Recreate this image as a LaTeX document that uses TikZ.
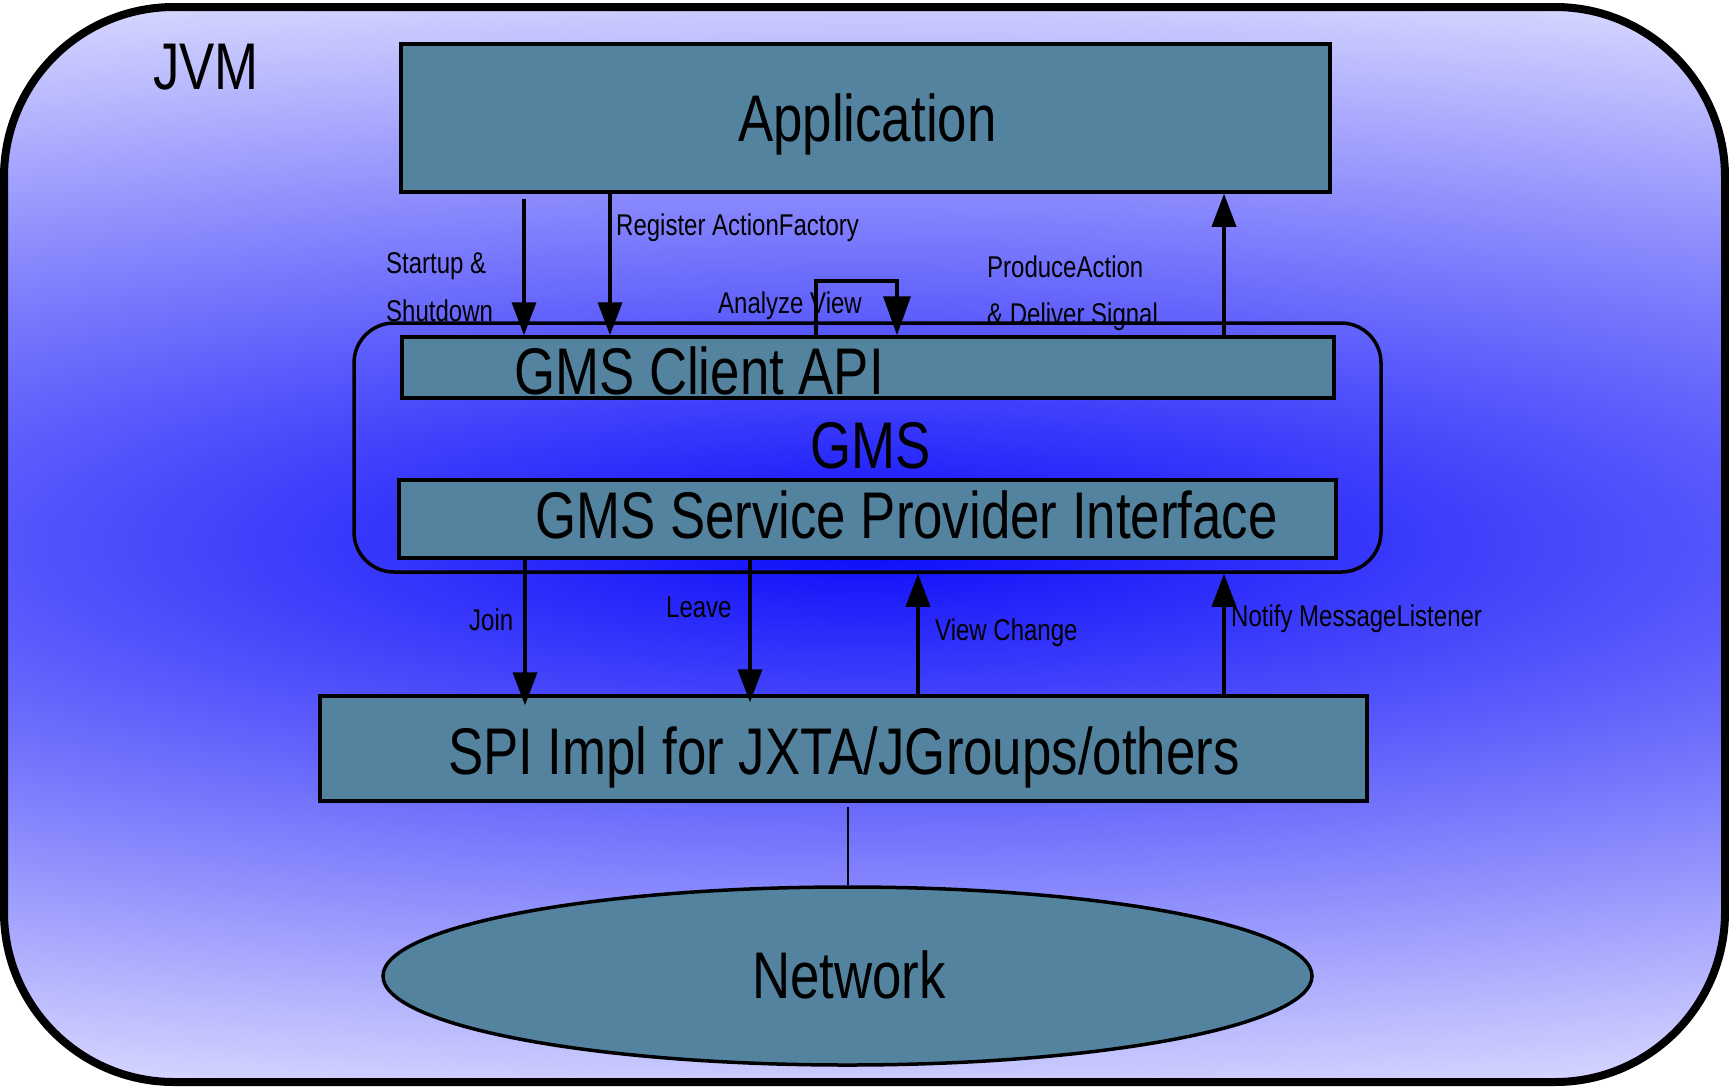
\documentclass[tikz,border=0pt]{standalone}
\usepackage{fontspec}
\setmainfont{Liberation Sans}[FakeStretch=0.8]
\usetikzlibrary{arrows.meta,shapes.geometric}

\definecolor{boxfill}{RGB}{84,131,160}
\definecolor{jvmcore}{RGB}{12,12,250}
\definecolor{jvmrim}{RGB}{226,226,255}

% radial glow: the 25bp ring is mapped onto the ellipse outline
\pgfdeclareradialshading{jvmglow}{\pgfpointorigin}{%
  color(0bp)=(jvmcore); color(25bp)=(jvmrim); color(50bp)=(jvmrim)}

\tikzset{
  layer/.style={draw=black, line width=3.5pt, fill=boxfill, inner sep=0pt,
    rectangle},
  bigtext/.style={font=\fontsize{66}{70}\selectfont, inner sep=0pt,
    anchor=base west},
  flowtext/.style={font=\fontsize{30}{34}\selectfont, inner sep=0pt,
    anchor=base west},
  flow/.style={line width=3.5pt,
    -{Triangle[length=33pt,width=24pt]}},
  bigflow/.style={line width=3.5pt,
    -{Triangle[length=39pt,width=27pt]}},
}

\begin{document}
\begin{tikzpicture}[x=1pt,y=-1pt]
\useasboundingbox (0,0) rectangle (1729,1088);

% JVM container with its glowing background
\node[draw=black, line width=8pt, rounded corners=170pt, inner sep=0pt,
      minimum width=1721pt, minimum height=1075pt,
      path picture={\shade[shading=jvmglow]
        (path picture bounding box.center) ellipse [x radius=2500pt, y radius=600pt];}]
  (jvm) at (864.5,544.5) {};
\node[bigtext] (jvmtext) at (153,89) {JVM};

% GMS frame
\node[draw=black, line width=3.5pt, rounded corners=40pt, inner sep=0pt,
      minimum width=1027pt, minimum height=249pt] (gms) at (867.5,447.5) {};

% layers
\node[layer, minimum width=929pt, minimum height=148pt] (app) at (865.5,118) {};
\node[layer, minimum width=932pt, minimum height=61pt] (client) at (868,367.5) {};
\node[layer, minimum width=937pt, minimum height=78pt] (spi) at (867.5,519) {};
\node[layer, minimum width=1047pt, minimum height=105pt] (impl) at (843.5,748.5) {};
\node[layer, ellipse, minimum width=929pt, minimum height=178pt] (net) at (847.5,976) {};

\node[bigtext] (apptext) at (738,141) {Application};
\node[bigtext] (clienttext) at (514,394) {GMS Client API};
\node[bigtext] (gmstext) at (810,468) {GMS};
\node[bigtext] (spitext) at (535,538) {GMS Service Provider Interface};
\node[bigtext] (impltext) at (448,774) {SPI Impl for JXTA/JGroups/others};
\node[bigtext] (nettext) at (752,998) {Network};

% columns of the connectors
\coordinate (startup) at (524,0);
\coordinate (register) at (610,0);
\coordinate (loopleft) at (816,281);
\coordinate (loopright) at (897,281);
\coordinate (produce) at (1224,0);
\coordinate (join) at (525,0);
\coordinate (leave) at (750,0);
\coordinate (viewchg) at (918,0);
\coordinate (notify) at (1224,0);

% application <-> client API
\draw[flow, shorten <=5pt] (startup |- app.south) -- (startup |- client.north);
\draw[flow] (register |- app.south) -- (register |- client.north);
\draw[bigflow] (loopleft |- client.north) -- (loopleft) -- (loopright)
  -- (loopright |- client.north);
\draw[flow] (produce |- client.north) -- (produce |- app.south);

% SPI <-> implementation
\draw[flow, shorten >=-11pt] (join |- spi.south) -- (join |- impl.north);
\draw[flow, shorten >=-8pt] (leave |- spi.south) -- (leave |- impl.north);
\draw[flow] (viewchg |- impl.north) -- (viewchg |- gms.south);
\draw[flow] (notify |- impl.north) -- (notify |- gms.south);

% implementation to network
\draw[line width=2pt, shorten >=4pt] (net.north) -- (net.north |- impl.south);

% connector labels
\node[flowtext] (lstartup) at (386,273) {Startup \&};
\node[flowtext] (lshutdown) at (386,321) {Shutdown};
\node[flowtext] (lregister) at (616,235) {Register ActionFactory};
\node[flowtext] (lanalyze) at (718,313) {Analyze View};
\node[flowtext] (lproduce) at (987,277) {ProduceAction};
\node[flowtext] (ldeliver) at (987,324) {\& Deliver Signal};
\node[flowtext] (ljoin) at (469,630) {Join};
\node[flowtext] (lleave) at (666,617) {Leave};
\node[flowtext] (lview) at (935,640) {View Change};
\node[flowtext] (lnotify) at (1231,626) {Notify MessageListener};
\end{tikzpicture}
\end{document}
